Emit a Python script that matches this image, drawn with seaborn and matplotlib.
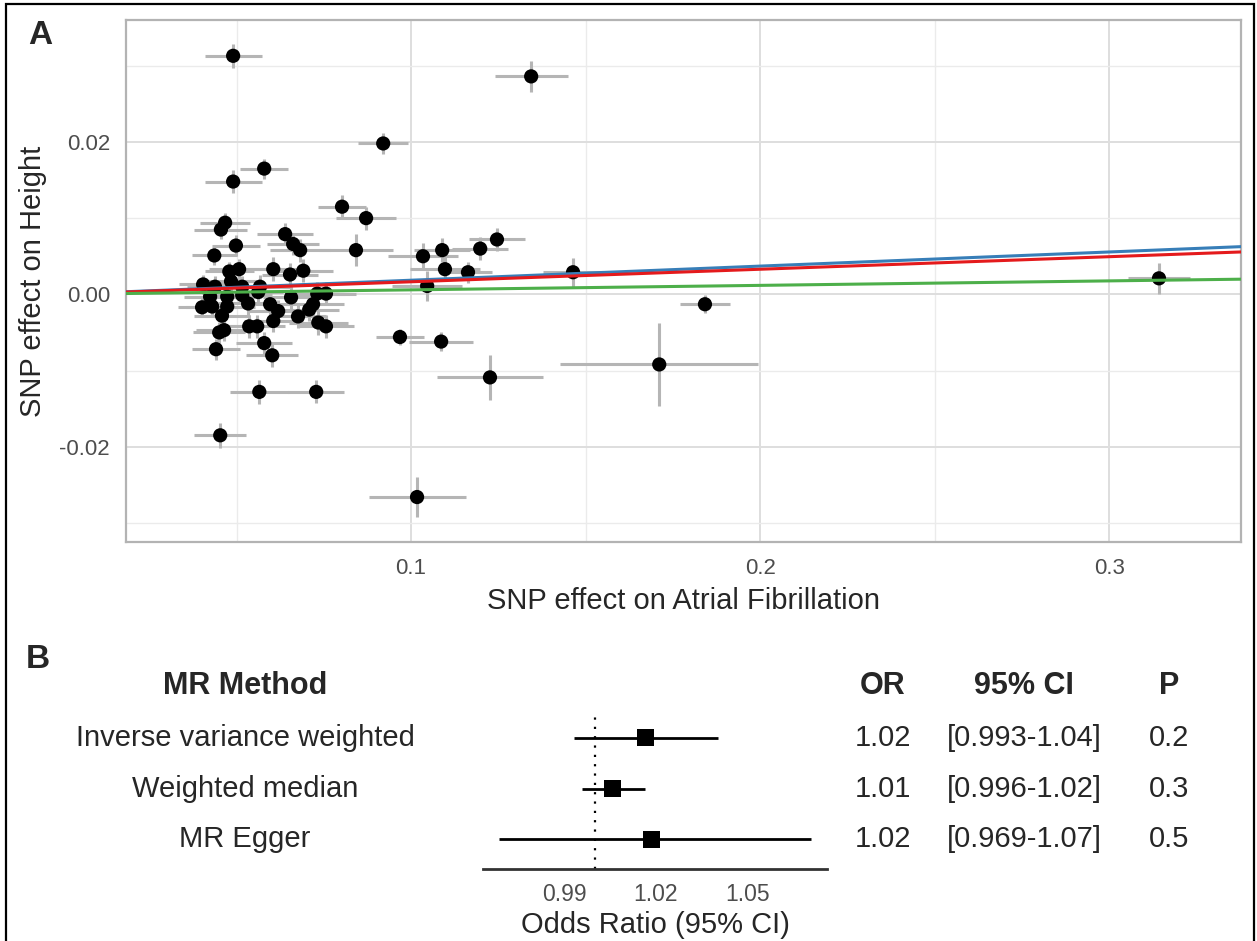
import matplotlib
matplotlib.use("Agg")
import matplotlib.pyplot as plt
import matplotlib.transforms as mtransforms
from matplotlib.patches import Rectangle
import numpy as np
import pandas as pd
import seaborn as sns

# SNP effects
beta_af = [0.0490, 0.0579, 0.0490, 0.1344, 0.0920, 0.0802, 0.0871, 0.0842, 0.0467, 0.0455,
           0.0639, 0.0662, 0.0682, 0.0498, 0.0436, 0.0507, 0.0479, 0.0605, 0.0653, 0.0691,
           0.0404, 0.0438, 0.0484, 0.0516, 0.0567, 0.0562, 0.0731, 0.0756, 0.0424, 0.0473,
           0.0516, 0.0656, 0.0401, 0.0430, 0.0473, 0.0533, 0.0596, 0.0619, 0.0719, 0.0708,
           0.0458, 0.0676, 0.0605, 0.0536, 0.0559, 0.0734, 0.0756, 0.0450, 0.0464, 0.0441,
           0.0579, 0.0602, 0.0565, 0.0728, 0.0453, 0.1034, 0.1089, 0.1097, 0.1163, 0.1198,
           0.1246, 0.1046, 0.1464, 0.1842, 0.1711, 0.0968, 0.1086, 0.1226, 0.1017, 0.3143]
se_af = [0.0082, 0.0069, 0.0082, 0.0105, 0.0072, 0.0069, 0.0085, 0.0106, 0.0072, 0.0076,
         0.0080, 0.0075, 0.0085, 0.0070, 0.0065, 0.0085, 0.0070, 0.0090, 0.0080, 0.0085,
         0.0070, 0.0080, 0.0075, 0.0080, 0.0085, 0.0070, 0.0080, 0.0085, 0.0075, 0.0080,
         0.0085, 0.0080, 0.0070, 0.0075, 0.0080, 0.0085, 0.0080, 0.0085, 0.0090, 0.0085,
         0.0080, 0.0080, 0.0085, 0.0075, 0.0080, 0.0085, 0.0080, 0.0075, 0.0080, 0.0070,
         0.0080, 0.0075, 0.0085, 0.0080, 0.0075, 0.0100, 0.0080, 0.0100, 0.0070, 0.0080,
         0.0080, 0.0100, 0.0086, 0.0071, 0.0283, 0.0069, 0.0092, 0.0152, 0.0139, 0.0090]
beta_height = [0.0313, 0.0165, 0.0148, 0.0286, 0.0198, 0.0115, 0.0100, 0.0058, 0.0094, 0.0085,
               0.0079, 0.0066, 0.0058, 0.0064, 0.0051, 0.0033, 0.0030, 0.0033, 0.0026, 0.0031,
               0.0013, 0.0010, 0.0017, 0.0010, 0.0010, 0.0003, 0.0001, 0.0001, -0.0003, -0.0003,
               -0.0001, -0.0004, -0.0017, -0.0016, -0.0016, -0.0012, -0.0013, -0.0022, -0.0013, -0.0020,
               -0.0028, -0.0029, -0.0035, -0.0042, -0.0042, -0.0037, -0.0042, -0.0050, -0.0047, -0.0072,
               -0.0064, -0.0080, -0.0128, -0.0128, -0.0185, 0.0050, 0.0058, 0.0033, 0.0029, 0.0060,
               0.0072, 0.0011, 0.0029, -0.0013, -0.0092, -0.0056, -0.0062, -0.0109, -0.0266, 0.0021]
se_height = [0.0016, 0.0013, 0.0015, 0.0020, 0.0014, 0.0015, 0.0015, 0.0021, 0.0013, 0.0013,
             0.0014, 0.0014, 0.0015, 0.0014, 0.0013, 0.0014, 0.0013, 0.0016, 0.0015, 0.0015,
             0.0013, 0.0014, 0.0013, 0.0014, 0.0015, 0.0014, 0.0015, 0.0015, 0.0013, 0.0014,
             0.0014, 0.0016, 0.0013, 0.0014, 0.0014, 0.0015, 0.0014, 0.0015, 0.0016, 0.0015,
             0.0014, 0.0015, 0.0015, 0.0015, 0.0015, 0.0016, 0.0015, 0.0014, 0.0014, 0.0014,
             0.0015, 0.0015, 0.0016, 0.0015, 0.0016, 0.0017, 0.0016, 0.0016, 0.0014, 0.0015,
             0.0015, 0.0020, 0.0019, 0.0012, 0.0054, 0.0011, 0.0012, 0.0030, 0.0026, 0.0020]

# MR results
methods = ["Inverse variance weighted", "Weighted median", "MR Egger"]
or_est = [1.0166, 1.0059, 1.0187]
or_lo = [0.9933, 0.9957, 0.9687]
or_hi = [1.0404, 1.0164, 1.0708]
or_text = ["1.02", "1.01", "1.02"]
ci_text = ["[0.993-1.04]", "[0.996-1.02]", "[0.969-1.07]"]
p_text = ["0.2", "0.3", "0.5"]
method_colours = {"Inverse variance weighted": "#E41A1C",
                  "MR Egger": "#377EB8",
                  "Weighted median": "#4DAF4A"}

snps = pd.DataFrame({"beta_af": beta_af, "se_af": se_af,
                     "beta_height": beta_height, "se_height": se_height})
res = pd.DataFrame({"method": methods, "or": or_est, "lo": or_lo, "hi": or_hi,
                    "row": [3, 2, 1]})

sns.set_style("white")
plt.rcParams["font.family"] = ["Liberation Sans", "DejaVu Sans"]

W, H = 1257, 941
fig = plt.figure(figsize=(W / 100, H / 100), dpi=100)

# ---- panel A: scatter
ax = fig.add_axes([126 / W, 1 - 542 / H, (1241 - 126) / W, (542 - 20) / H])
ax.set_xlim(0.0183, 0.3378)
ax.set_ylim(-0.0325, 0.0360)
ax.set_xticks([0.1, 0.2, 0.3])
ax.set_xticklabels(["0.1", "0.2", "0.3"])
ax.set_xticks([0.05, 0.15, 0.25], minor=True)
ax.set_yticks([-0.02, 0.0, 0.02])
ax.set_yticklabels(["-0.02", "0.00", "0.02"])
ax.set_yticks([-0.03, -0.01, 0.01, 0.03], minor=True)
ax.grid(True, which="major", color="#DEDEDE", lw=1.4)
ax.grid(True, which="minor", color="#EBEBEB", lw=1.0)
ax.set_axisbelow(True)
for sp in ax.spines.values():
    sp.set_color("#B3B3B3")
    sp.set_linewidth(1.6)
ax.tick_params(which="major", length=5.5, width=1.2, color="#B3B3B3",
               labelsize=16, labelcolor="#4D4D4D", pad=6)
ax.tick_params(which="minor", length=0)

ax.errorbar(snps["beta_af"], snps["beta_height"], xerr=snps["se_af"], fmt="none",
            ecolor="#B5B5B5", elinewidth=2.2, capsize=0, zorder=2)
ax.errorbar(snps["beta_af"], snps["beta_height"], yerr=snps["se_height"], fmt="none",
            ecolor="#B5B5B5", elinewidth=2.2, capsize=0, zorder=2)
sns.scatterplot(data=snps, x="beta_af", y="beta_height", ax=ax, color="black",
                s=105, edgecolor="none", zorder=3, legend=False)

# regression lines through the origin, slope = log(OR)
for m in ["MR Egger", "Inverse variance weighted", "Weighted median"]:
    slope = np.log(res.loc[res["method"] == m, "or"].iloc[0])
    ax.axline((0, 0), slope=slope, color=method_colours[m], lw=2.2, zorder=4)

ax.set_xlabel("SNP effect on Atrial Fibrillation", fontsize=21, va="center")
ax.xaxis.set_label_coords(0.5, (542 - 601) / 522)
ax.set_ylabel("SNP effect on Height", fontsize=21, va="center", ha="center")
ax.yaxis.set_label_coords((33 - 126) / 1115, 0.5)

fig.text(40 / W, 1 - 35 / H, "A", fontsize=24, fontweight="bold", ha="center", va="center")
fig.text(38 / W, 1 - 659 / H, "B", fontsize=24, fontweight="bold", ha="center", va="center")

# ---- panel B: forest plot
bx = fig.add_axes([483 / W, 1 - 869 / H, (827 - 483) / W, (869 - 717) / H])
bx.set_xlim(0.9634, 1.0762)
bx.set_ylim(0.415, 3.41)
bx.axvline(1.0, color="black", lw=1.6, ls=(0, (1, 3.2)), zorder=1)
bx.hlines(res["row"], res["lo"], res["hi"], color="black", lw=2.0, zorder=2)
sns.scatterplot(data=res, x="or", y="row", ax=bx, marker="s", color="black",
                s=150, edgecolor="none", zorder=3, legend=False)
bx.set_xticks([0.99, 1.02, 1.05])
bx.set_xticklabels(["0.99", "1.02", "1.05"])
bx.set_yticks([])
bx.grid(False)
for side in ["top", "left", "right"]:
    bx.spines[side].set_visible(False)
bx.spines["bottom"].set_color("#333333")
bx.spines["bottom"].set_linewidth(2.0)
bx.tick_params(axis="x", length=4, width=1.4, color="#333333", labelsize=16.5,
               labelcolor="#4D4D4D", pad=6)
bx.set_xlabel("Odds Ratio (95% CI)", fontsize=21, va="center")
bx.xaxis.set_label_coords(0.5, (869 - 925) / 152)
bx.set_ylabel("")

tr = mtransforms.blended_transform_factory(fig.transFigure, bx.transData)
col_method, col_or, col_ci, col_p = 245 / W, 883 / W, 1024 / W, 1169 / W
header_y = 4.02
for x, lab in [(col_method, "MR Method"), (col_or, "OR"), (col_ci, "95% CI"), (col_p, "P")]:
    bx.text(x, header_y, lab, transform=tr, fontsize=22, fontweight="bold",
            ha="center", va="center", clip_on=False)
for i, r in res.iterrows():
    bx.text(col_method, r["row"], r["method"], transform=tr, fontsize=21,
            ha="center", va="center", clip_on=False)
    bx.text(col_or, r["row"], or_text[i], transform=tr, fontsize=21,
            ha="center", va="center", clip_on=False)
    bx.text(col_ci, r["row"], ci_text[i], transform=tr, fontsize=21,
            ha="center", va="center", clip_on=False)
    bx.text(col_p, r["row"], p_text[i], transform=tr, fontsize=21,
            ha="center", va="center", clip_on=False)

# outer frame
fig.add_artist(Rectangle((6 / W, -0.01), (1254 - 6) / W, 1.01 - 4 / H,
                         transform=fig.transFigure, fill=False, ec="black", lw=1.6))

fig.savefig("out.png", dpi=100)
